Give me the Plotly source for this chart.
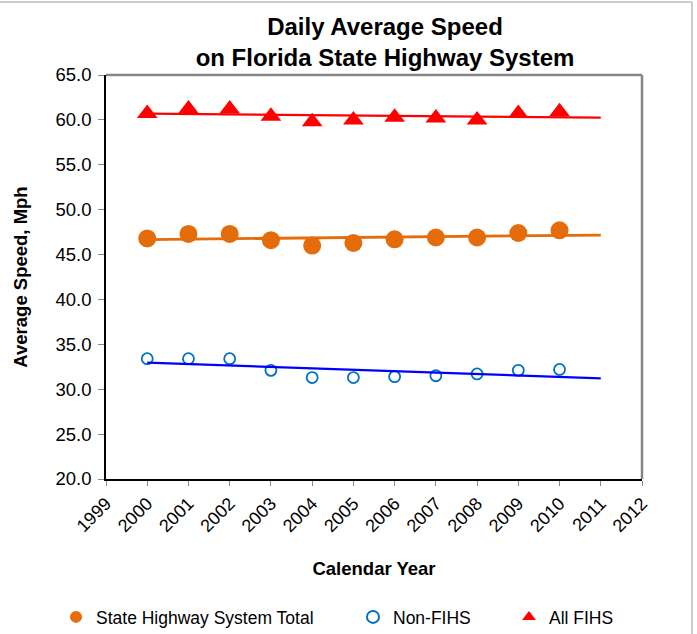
import numpy as np
import plotly.graph_objects as go

# ---- data ----
years = [2000, 2001, 2002, 2003, 2004, 2005, 2006, 2007, 2008, 2009, 2010]
shs_total = [46.8, 47.3, 47.3, 46.6, 46.0, 46.3, 46.7, 46.9, 46.9, 47.4, 47.7]
non_fihs = [33.4, 33.4, 33.4, 32.1, 31.3, 31.3, 31.4, 31.5, 31.7, 32.1, 32.2]
all_fihs = [60.7, 61.2, 61.2, 60.4, 59.8, 60.0, 60.3, 60.2, 60.0, 60.7, 60.9]
trend_years = [2000, 2011]
x_ticks = list(range(1999, 2013))
y_ticks = [20.0, 25.0, 30.0, 35.0, 40.0, 45.0, 50.0, 55.0, 60.0, 65.0]

FONT = "Liberation Sans, Arial, sans-serif"
ORANGE = "#E46C0A"
BLUE_MK = "#0070C0"
BLUE_LN = "#0000FF"
RED = "#FF0000"


def trend(ys):
    k, b = np.polyfit(years, ys, 1)
    return [k * t + b for t in trend_years]


fig = go.Figure()

fig.add_trace(go.Scatter(
    x=years, y=shs_total, mode="markers", name="State Highway System Total",
    marker=dict(symbol="circle", size=18, color=ORANGE), legend="legend"))
fig.add_trace(go.Scatter(
    x=years, y=non_fihs, mode="markers", name="Non-FIHS",
    marker=dict(symbol="circle-open", size=11, color=BLUE_MK, line=dict(width=1.8, color=BLUE_MK)),
    legend="legend2"))
fig.add_trace(go.Scatter(
    x=years, y=all_fihs, mode="markers", name="All FIHS",
    marker=dict(symbol="triangle-up", size=18, color=RED), legend="legend3"))

# linear trend lines drawn on top of markers
fig.add_trace(go.Scatter(x=trend_years, y=trend(shs_total), mode="lines",
                         line=dict(color=ORANGE, width=2.8), showlegend=False, hoverinfo="skip"))
fig.add_trace(go.Scatter(x=trend_years, y=trend(non_fihs), mode="lines",
                         line=dict(color=BLUE_LN, width=2.2), showlegend=False, hoverinfo="skip"))
fig.add_trace(go.Scatter(x=trend_years, y=trend(all_fihs), mode="lines",
                         line=dict(color=RED, width=2.2), showlegend=False, hoverinfo="skip"))

leg_common = dict(orientation="h", xref="container", yref="container", yanchor="middle",
                  xanchor="left", y=(634 - 617) / 634, bgcolor="rgba(0,0,0,0)",
                  font=dict(family=FONT, size=17.5, color="black"), itemsizing="constant")

fig.update_layout(
    width=697, height=634,
    margin=dict(l=106, r=55, t=75, b=155),
    paper_bgcolor="white", plot_bgcolor="white",
    font=dict(family=FONT, color="black"),
    title=dict(text="<b>Daily Average Speed<br>on Florida State Highway System</b>",
               x=385 / 697, xanchor="center", xref="container",
               y=1 - 35 / 634, yanchor="top", yref="container",
               font=dict(family=FONT, size=24, color="black")),
    legend=dict(x=56 / 697, **leg_common),
    legend2=dict(x=353 / 697, **leg_common),
    legend3=dict(x=509 / 697, **leg_common),
    xaxis=dict(range=[1999, 2012], tickmode="array", tickvals=x_ticks,
               ticktext=[str(v) for v in x_ticks], tickangle=-45,
               showgrid=False, zeroline=False, showline=True, linecolor="black", linewidth=2,
               ticks="outside", ticklen=5, tickcolor="#888888", tickwidth=1,
               tickfont=dict(family=FONT, size=18, color="black"),
               title=dict(text="<b>Calendar Year</b>", standoff=27,
                          font=dict(family=FONT, size=18.5, color="black"))),
    yaxis=dict(range=[20, 65], tickmode="array", tickvals=y_ticks,
               ticktext=[f"{v:.1f}" for v in y_ticks], ticklabelstandoff=3,
               showgrid=False, zeroline=False, showline=True, linecolor="black", linewidth=1.5,
               ticks="outside", ticklen=6, tickcolor="#888888", tickwidth=1,
               tickfont=dict(family=FONT, size=18.5, color="black"),
               title=dict(text="<b>Average Speed, Mph</b>", standoff=23,
                          font=dict(family=FONT, size=18.5, color="black"))),
    shapes=[
        # gray top and right edges of the plot area
        dict(type="line", xref="paper", yref="paper", x0=0, x1=1, y0=1, y1=1,
             line=dict(color="#868686", width=2.5)),
        dict(type="line", xref="paper", yref="paper", x0=1, x1=1, y0=0, y1=1,
             line=dict(color="#868686", width=2.5)),
        # outer chart frame (top and right)
        dict(type="line", xref="paper", yref="paper",
             x0=-106 / 536, x1=(692 - 106) / 536, y0=(479 - 2) / 404, y1=(479 - 2) / 404,
             line=dict(color="#BBBBBB", width=1.5)),
        dict(type="line", xref="paper", yref="paper",
             x0=(692 - 106) / 536, x1=(692 - 106) / 536, y0=(479 - 640) / 404, y1=(479 - 2) / 404,
             line=dict(color="#BBBBBB", width=1.5)),
    ],
)

fig.write_html("out.html", config={"displayModeBar": False},
               post_script="document.body.style.margin='0px';")
